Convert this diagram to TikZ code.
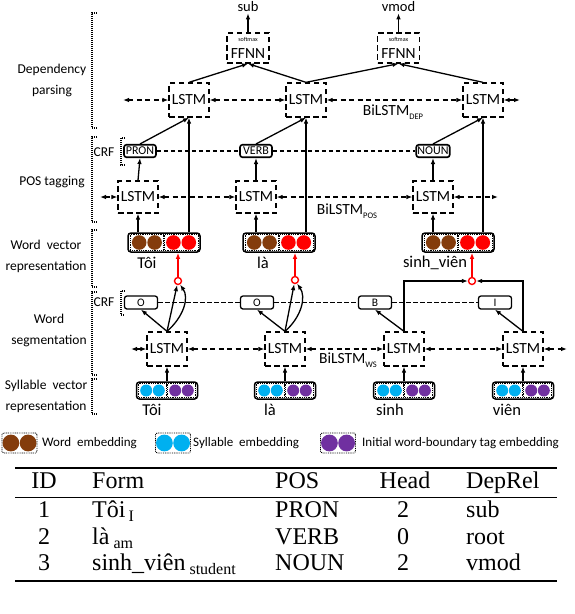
\documentclass[tikz,border=0pt]{standalone}
\usepackage{fontspec}
\setmainfont{Liberation Serif}
\newfontfamily\dg{Carlito}
\usetikzlibrary{arrows.meta,calc}
\definecolor{wbrown}{RGB}{132,60,12}
\definecolor{wred}{RGB}{255,0,0}
\definecolor{scyan}{RGB}{0,176,240}
\definecolor{spurple}{RGB}{112,48,160}
\tikzset{
 conn/.style={-{Latex[length=6pt,width=4.6pt]}, line width=1.3pt},
 rconn/.style={-{Latex[length=6pt,width=4.6pt]}, line width=1.3pt, draw=wred},
 hconn/.style={{Latex[length=6pt,width=4.6pt]}-{Latex[length=6pt,width=4.6pt]}, line width=1.3pt, dash pattern=on 5pt off 3.5pt},
 lstmbox/.style={draw, line width=1.3pt, dash pattern=on 5.5pt off 3.5pt, minimum width=40pt, minimum height=34pt, inner sep=0pt, font=\dg\fontsize{15.5}{15.5}\selectfont},
 ffnnbox/.style={draw, line width=1.3pt, dash pattern=on 5.5pt off 3.5pt, minimum width=42pt, minimum height=30pt, inner sep=0pt, align=center, font=\dg\fontsize{15.5}{15.5}\selectfont},
 posbox/.style={draw, line width=1.6pt, rounded corners=2.5pt, minimum width=32pt, minimum height=12.5pt, inner xsep=1.2pt, inner ysep=0pt, font=\dg\fontsize{12}{12}\selectfont},
 segbox/.style={draw, line width=1.3pt, rounded corners=2.5pt, minimum width=33pt, minimum height=13pt, inner sep=0pt, font=\dg\fontsize{11.5}{11.5}\selectfont},
 crfline/.style={line width=1.1pt, dash pattern=on 4.5pt off 2.5pt},
 embbox/.style={draw, line width=1.5pt, rounded corners=3pt, inner sep=0pt},
 dotline/.style={line width=0.9pt, dash pattern=on 0.9pt off 0.9pt},
 brack/.style={line width=1.1pt, dash pattern=on 1pt off 1pt},
 redring/.style={circle, draw=wred, line width=1.4pt, fill=white, minimum size=7pt, inner sep=0pt},
 sidelbl/.style={align=center, font=\dg\fontsize{13.5}{21}\selectfont},
 wordlbl/.style={font=\dg\fontsize{16.5}{16.5}\selectfont},
 smalllbl/.style={font=\dg\fontsize{13.5}{13.5}\selectfont},
 tbl/.style={font=\fontsize{24}{24}\selectfont, inner sep=0pt},
}
\newcommand{\wordvec}[3]{%
 \node[embbox, minimum width=72pt, minimum height=19pt] (#1) at (#2,#3) {};
 \draw[dotline] (#2-34,#3-8) rectangle (#2-0.6,#3+8);
 \draw[dotline] (#2+0.6,#3-8) rectangle (#2+34,#3+8);
 \fill[wbrown] (#2-24.8,#3) circle[radius=7.3pt];
 \fill[wbrown] (#2-9.4,#3) circle[radius=7.3pt];
 \fill[wred] (#2+9.4,#3) circle[radius=7.3pt];
 \fill[wred] (#2+24.8,#3) circle[radius=7.3pt];
}
\newcommand{\sylvec}[3]{%
 \node[embbox, minimum width=61pt, minimum height=17pt] (#1) at (#2,#3) {};
 \draw[dotline] (#2-28.5,#3-7) rectangle (#2-0.6,#3+7);
 \draw[dotline] (#2+0.6,#3-7) rectangle (#2+28.5,#3+7);
 \fill[scyan] (#2-20.8,#3) circle[radius=6pt];
 \fill[scyan] (#2-8.2,#3) circle[radius=6pt];
 \fill[spurple] (#2+8.2,#3) circle[radius=6pt];
 \fill[spurple] (#2+20.8,#3) circle[radius=6pt];
}
\newcommand{\legpair}[3]{%
 \draw[dotline, rounded corners=1.5pt] (#1-17.5,#2-10) rectangle (#1+17.5,#2+10);
 \fill[#3] (#1-8.6,#2) circle[radius=8.4pt];
 \fill[#3] (#1+8.6,#2) circle[radius=8.4pt];
}
\begin{document}
\begin{tikzpicture}[x=1pt,y=-1pt]
\useasboundingbox[fill=white] (0,0) rectangle (574,614);

% ---- side brackets and labels
\draw[brack] (97,13) -- (92,13) -- (92,128) -- (97,128);
\draw[brack] (97,137) -- (92,137) -- (92,222) -- (97,222);
\draw[brack] (97,230) -- (92,230) -- (92,287) -- (97,287);
\draw[brack] (97,292) -- (92,292) -- (92,375) -- (97,375);
\draw[brack] (97,379) -- (92,379) -- (92,414) -- (97,414);
\draw[brack] (125,138) -- (121,138) -- (121,165) -- (125,165);
\draw[brack] (125,291) -- (121,291) -- (121,315) -- (125,315);

\node[sidelbl] (ldep) at (52,80) {Dependency\\parsing};
\node[sidelbl] (lpos) at (52,182) {POS tagging};
\node[sidelbl] (lwv) at (46,256) {Word\ \ vector\\representation};
\node[sidelbl] (lws) at (49,330) {Word\\segmentation};
\node[sidelbl] (lsv) at (46,396) {Syllable\ \ vector\\representation};
\node[smalllbl] (crf1) at (104,152) {CRF};
\node[smalllbl] (crf2) at (104,302) {CRF};

% ---- dependency parsing
\node[ffnnbox] (f1) at (248,48) {{\fontsize{6}{6}\selectfont softmax}\\[1pt]FFNN};
\node[ffnnbox] (f2) at (398.5,48) {{\fontsize{6}{6}\selectfont softmax}\\[1pt]FFNN};
\node[font=\dg\fontsize{14.5}{14.5}\selectfont, inner sep=1pt] (sub) at (248,7) {sub};
\node[font=\dg\fontsize{14.5}{14.5}\selectfont, inner sep=1pt] (vmod) at (398.5,7) {vmod};
\draw[conn] (f1.north) -- (sub.south);
\draw[conn] (f2.north) -- (vmod.south);

\node[lstmbox] (ld1) at (189,100) {LSTM};
\node[lstmbox] (ld2) at (306,100) {LSTM};
\node[lstmbox] (ld3) at (483,100) {LSTM};
\coordinate (dL) at (123,100);
\coordinate (dR) at (520,100);
\draw[hconn] (dL) -- (ld1.west);
\draw[hconn] (ld1.east) -- (ld2.west);
\draw[hconn] (ld2.east) -- (ld3.west);
\draw[hconn] (ld3.east) -- (dR);
\node[font=\dg\fontsize{15.5}{15.5}\selectfont] (bdep) at (393,112) {BiLSTM\raisebox{-3.5pt}{\fontsize{8.5}{8.5}\selectfont DEP}};

\draw[conn] (ld1.north) -- (f1.south);
\draw[conn] (ld2.north) -- (f1.south);
\draw[conn] (ld2.north) -- (f2.south);
\draw[conn] (ld3.north) -- (f2.south);

% ---- POS tagging
\node[posbox] (pron) at (140,151) {PRON};
\node[posbox] (verb) at (256,151) {VERB};
\node[posbox] (noun) at (433,151) {NOUN};
\draw[crfline] (pron.east) -- (verb.west);
\draw[crfline] (verb.east) -- (noun.west);
\draw[conn] (pron.north) -- (ld1.south);
\draw[conn] (verb.north) -- (ld2.south);
\draw[conn] (noun.north) -- (ld3.south);

\node[lstmbox, minimum height=32pt] (lp1) at (138,197) {LSTM};
\node[lstmbox, minimum height=32pt] (lp2) at (256,197) {LSTM};
\node[lstmbox, minimum height=32pt] (lp3) at (433,197) {LSTM};
\coordinate (pL) at (100,197);
\coordinate (pR) at (498,197);
\draw[hconn] (pL) -- (lp1.west);
\draw[hconn] (lp1.east) -- (lp2.west);
\draw[hconn] (lp2.east) -- (lp3.west);
\draw[hconn] (lp3.east) -- (pR);
\node[font=\dg\fontsize{15.5}{15.5}\selectfont] (bpos) at (347,211) {BiLSTM\raisebox{-3.5pt}{\fontsize{8.5}{8.5}\selectfont POS}};
\draw[conn] (lp1.north) -- (pron.south);
\draw[conn] (lp2.north) -- (verb.south);
\draw[conn] (lp3.north) -- (noun.south);

% ---- word vectors
\wordvec{wv1}{164}{242.5}
\wordvec{wv2}{279}{242.5}
\wordvec{wv3}{458}{242.5}
\node[wordlbl] (tw1) at (147,263) {Tôi};
\node[wordlbl] (tw2) at (263,263) {là};
\node[wordlbl] (tw3) at (435,263) {sinh\_viên};
\draw[conn] (wv1.north -| lp1.south) -- (lp1.south);
\draw[conn] (wv2.north -| lp2.south) -- (lp2.south);
\draw[conn] (wv3.north -| lp3.south) -- (lp3.south);
\draw[conn] (wv1.north -| ld1.south) -- (ld1.south);
\draw[conn] (wv2.north -| ld2.south) -- (ld2.south);
\draw[conn] (wv3.north -| ld3.south) -- (ld3.south);

\node[redring] (c1) at (178,281) {};
\node[redring] (c2) at (295,280) {};
\node[redring] (c3) at (472,281) {};
\draw[rconn] (c1) -- (c1 |- wv1.south);
\draw[rconn] (c2) -- (c2 |- wv2.south);
\draw[rconn] (c3) -- (c3 |- wv3.south);

% ---- word segmentation
\node[segbox] (o1) at (141,302.5) {O};
\node[segbox] (o2) at (257,302.5) {O};
\node[segbox] (tb) at (375,302.5) {B};
\node[segbox] (ti) at (495,302.5) {I};
\draw[crfline] (o1.east) -- (o2.west);
\draw[crfline] (o2.east) -- (tb.west);
\draw[crfline] (tb.east) -- (ti.west);

\node[lstmbox] (ls1) at (167,349) {LSTM};
\node[lstmbox] (ls2) at (285,349) {LSTM};
\node[lstmbox] (ls3) at (404,349) {LSTM};
\node[lstmbox] (ls4) at (523,349) {LSTM};
\coordinate (sL) at (131,349);
\coordinate (sR) at (567,349);
\draw[hconn] (sL) -- (ls1.west);
\draw[hconn] (ls1.east) -- (ls2.west);
\draw[hconn] (ls2.east) -- (ls3.west);
\draw[hconn] (ls3.east) -- (ls4.west);
\draw[hconn] (ls4.east) -- (sR);
\node[font=\dg\fontsize{15.5}{15.5}\selectfont] (bws) at (348,360) {BiLSTM\raisebox{-3.5pt}{\fontsize{8.5}{8.5}\selectfont WS}};

\draw[conn] (ls1.north) -- (o1.south);
\draw[conn] (ls1.north) -- (c1);
\draw[conn] (ls1.north) .. controls +(17,-15) and +(9,13) .. (c1.-60);
\draw[conn] (ls2.north) -- (o2.south);
\draw[conn] (ls2.north) -- (c2);
\draw[conn] (ls2.north) .. controls +(17,-15) and +(9,13) .. (c2.-60);
\draw[conn] (ls3.north) -- (tb.south);
\draw[conn] (ls3.north) |- (c3);
\draw[conn] (ls4.north) -- (ti.south);
\draw[conn] (ls4.north) |- (c3);

% ---- syllable vectors
\sylvec{sv1}{167}{390.5}
\sylvec{sv2}{285}{390.5}
\sylvec{sv3}{404}{390.5}
\sylvec{sv4}{523}{390.5}
\node[wordlbl] (ts1) at (152,410) {Tôi};
\node[wordlbl] (ts2) at (270,410) {là};
\node[wordlbl] (ts3) at (390,410) {sinh};
\node[wordlbl] (ts4) at (507,410) {viên};
\draw[conn] (sv1.north) -- (ls1.south);
\draw[conn] (sv2.north) -- (ls2.south);
\draw[conn] (sv3.north) -- (ls3.south);
\draw[conn] (sv4.north) -- (ls4.south);

% ---- legend
\legpair{19.5}{443}{wbrown}
\legpair{173}{443}{scyan}
\legpair{338}{443}{spurple}
\node[anchor=west, inner sep=0pt, font=\dg\fontsize{13}{13}\selectfont] (lg1) at (42,443) {Word\ \ embedding};
\node[anchor=west, inner sep=0pt, font=\dg\fontsize{13}{13}\selectfont] (lg2) at (193,443) {Syllable\ \ embedding};
\node[anchor=west, inner sep=0pt, font=\dg\fontsize{13}{13}\selectfont] (lg3) at (362,443) {Initial word-boundary tag embedding};

% ---- table
\draw[line width=1.4pt] (15,468) -- (557,468);
\draw[line width=1pt] (15,497) -- (557,497);
\draw[line width=1.4pt] (15,581) -- (557,581);
\node[tbl, anchor=base] (h1) at (44,488) {ID};
\node[tbl, anchor=base west] (h2) at (92,488) {Form};
\node[tbl, anchor=base west] (h3) at (275,488) {POS};
\node[tbl, anchor=base] (h4) at (405,488) {Head};
\node[tbl, anchor=base west] (h5) at (466,488) {DepRel};

\node[tbl, anchor=base] (r1a) at (44,517) {1};
\node[tbl, anchor=base west] (r1b) at (92,517) {Tôi\hspace{3pt}\raisebox{-4pt}{\fontsize{16}{16}\selectfont I}};
\node[tbl, anchor=base west] (r1c) at (275,517) {PRON};
\node[tbl, anchor=base] (r1d) at (403,517) {2};
\node[tbl, anchor=base west] (r1e) at (466,517) {sub};

\node[tbl, anchor=base] (r2a) at (44,544) {2};
\node[tbl, anchor=base west] (r2b) at (92,544) {là\hspace{4pt}\raisebox{-4pt}{\fontsize{16}{16}\selectfont am}};
\node[tbl, anchor=base west] (r2c) at (275,544) {VERB};
\node[tbl, anchor=base] (r2d) at (403,544) {0};
\node[tbl, anchor=base west] (r2e) at (466,544) {root};

\node[tbl, anchor=base] (r3a) at (44,570) {3};
\node[tbl, anchor=base west] (r3b) at (92,570) {sinh\_viên\hspace{4pt}\raisebox{-4pt}{\fontsize{16}{16}\selectfont student}};
\node[tbl, anchor=base west] (r3c) at (275,570) {NOUN};
\node[tbl, anchor=base] (r3d) at (403,570) {2};
\node[tbl, anchor=base west] (r3e) at (466,570) {vmod};
\end{tikzpicture}
\end{document}
